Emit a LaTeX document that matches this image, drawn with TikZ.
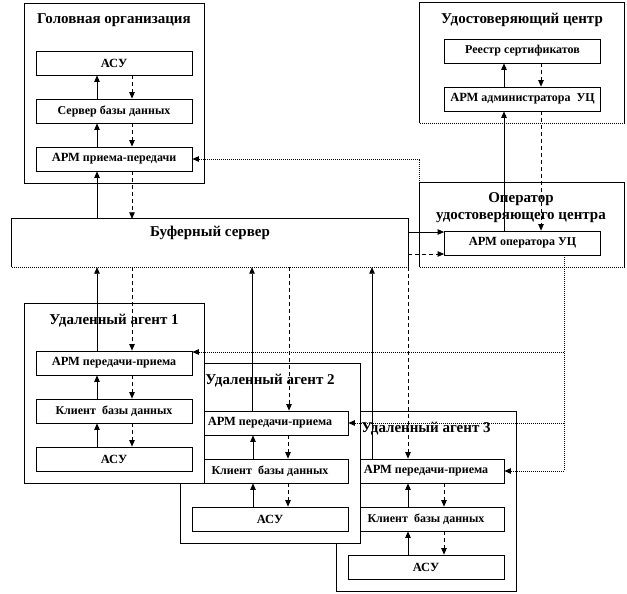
\documentclass[tikz,border=0pt]{standalone}
\usepackage{fontspec}
\setmainfont{Liberation Serif}
\usetikzlibrary{arrows.meta}
\newcommand{\fsT}{\fontsize{15}{17}\selectfont\bfseries}
\newcommand{\fsI}{\fontsize{12}{13}\selectfont\bfseries}
\newcommand{\armw}{{\fontsize{12.5}{13}\selectfont АРМ}}
\begin{document}
\begin{tikzpicture}[x=1pt,y=-1pt,
  outerbox/.style={draw,line width=0.9pt,fill=white,inner sep=0pt,minimum width=180pt,minimum height=180pt},
  bare/.style={inner sep=0pt,fill=white},
  innerbox/.style={draw,line width=0.8pt,fill=white,inner sep=0pt,minimum width=156pt,minimum height=24pt,font=\fsI},
  title/.style={inner sep=0pt,font=\fsT,align=center},
  arr/.style={-{Triangle[length=6.5pt,width=5.5pt]},line width=0.8pt},
  darr/.style={arr,dash pattern=on 4pt off 3pt},
  dotarr/.style={arr,dash pattern=on 1pt off 1pt},
  dotline/.style={line width=0.8pt,dash pattern=on 1pt off 1pt},
  frame/.style={line width=0.9pt}
]
\useasboundingbox (0,0) rectangle (627,594);
\fill[white] (0,0) rectangle (627,594);

% Head organisation
\node[outerbox] (hq) at (114,93) {};
\node[title] (hqt) at (114,20) {Головная организация};
\node[innerbox] (hqasu) at (114,63) {\fontsize{12.5}{13}\selectfont АСУ};
\node[innerbox] (hqsrv) at (114,111) {Сервер базы данных};
\node[innerbox] (hqarm) at (114,159) {\armw\ приема-передачи};

% Certification centre
\node[bare,minimum width=204pt,minimum height=120pt] (uc) at (522,63) {};
\draw[frame] (uc.south west) -- (uc.north west) -- (uc.north east) -- (uc.south east);
\draw[dotline] (uc.south west) -- (uc.south east);
\node[title] (uct) at (522,20) {Удостоверяющий центр};
\node[innerbox] (reg) at (522.5,51) {Реестр сертификатов};
\node[innerbox] (adm) at (522.5,99) {\armw\ администратора\ \ УЦ};

% Operator
\node[bare,minimum width=204pt,minimum height=84pt] (op) at (522,225) {};
\draw[frame] (op.south west) -- (op.north west) -- (op.north east) -- (op.south east);
\draw[dotline] (op.south west) -- (op.south east);
\node[title] (opt) at (521,207.5) {Оператор\\удостоверяющего центра};
\node[innerbox] (opa) at (522.5,243) {\armw\ оператора УЦ};

% Buffer server
\node[bare,minimum width=396pt,minimum height=48pt] (buf) at (210,243) {};
\draw[frame] (buf.south west) -- (buf.north west) -- (buf.north east) -- (buf.south east);
\draw[dotline] (buf.south west) -- (buf.south east);
\node[title] (buft) at (210,233) {Буферный сервер};

% Agent 3
\node[outerbox] (ag3) at (426,501) {};
\node[title] (ag3t) at (426,429) {Удаленный агент 3};
\node[innerbox] (a3arm) at (426,471) {\armw\ передачи-приема};
\node[innerbox] (a3cli) at (426,519) {Клиент\ \ базы данных};
\node[innerbox] (a3asu) at (426,567) {\fontsize{12.5}{13}\selectfont АСУ};

% Agent 2
\node[outerbox] (ag2) at (270,453) {};
\node[title] (ag2t) at (270,381) {Удаленный агент 2};
\node[innerbox] (a2arm) at (270,423) {\armw\ передачи-приема};
\node[innerbox] (a2cli) at (270,471) {Клиент\ \ базы данных};
\node[innerbox] (a2asu) at (270,519) {\fontsize{12.5}{13}\selectfont АСУ};

% Agent 1
\node[outerbox] (ag1) at (114,393) {};
\node[title] (ag1t) at (114,321) {Удаленный агент 1};
\node[innerbox] (a1arm) at (114,363) {\armw\ передачи-приема};
\node[innerbox] (a1cli) at (114,411) {Клиент\ \ базы данных};
\node[innerbox] (a1asu) at (114,459) {\fontsize{12.5}{13}\selectfont АСУ};

% ---- connectors inside head organisation
\draw[arr] ([xshift=-17pt]hqsrv.north) -- ([xshift=-17pt]hqasu.south);
\draw[darr] ([xshift=18pt]hqasu.south) -- ([xshift=18pt]hqsrv.north);
\draw[arr] ([xshift=-17pt]hqarm.north) -- ([xshift=-17pt]hqsrv.south);
\draw[darr] ([xshift=18pt]hqsrv.south) -- ([xshift=18pt]hqarm.north);
\coordinate (hs) at ([xshift=-17pt]hqarm.south);
\coordinate (hd) at ([xshift=18pt]hqarm.south);
\draw[arr] (hs |- buf.north) -- (hs);
\draw[darr] (hd) -- (hd |- buf.north);

% ---- certification centre
\draw[arr] ([xshift=-18.5pt]adm.north) -- ([xshift=-18.5pt]reg.south);
\draw[darr] ([xshift=18.5pt]reg.south) -- ([xshift=18.5pt]adm.north);
\draw[arr] ([xshift=-18.5pt]opa.north) -- ([xshift=-18.5pt]adm.south);
\draw[darr] ([xshift=18.5pt]adm.south) -- ([xshift=18.5pt]opa.north);

% ---- buffer to operator
\draw[arr] ([yshift=11pt]buf.east) -- ([yshift=11pt]opa.west);
\draw[darr] ([yshift=-11pt]buf.east) -- ([yshift=-11pt]opa.west);

% ---- agents inside
\foreach \a in {1,2}{
  \draw[arr] ([xshift=-17pt]a\a cli.north) -- ([xshift=-17pt]a\a arm.south);
  \draw[darr] ([xshift=18pt]a\a arm.south) -- ([xshift=18pt]a\a cli.north);
  \draw[arr] ([xshift=-17pt]a\a asu.north) -- ([xshift=-17pt]a\a cli.south);
  \draw[darr] ([xshift=18pt]a\a cli.south) -- ([xshift=18pt]a\a asu.north);
}
\draw[arr] ([xshift=-18pt]a3cli.north) -- ([xshift=-18pt]a3arm.south);
\draw[darr] ([xshift=18pt]a3arm.south) -- ([xshift=18pt]a3cli.north);
\draw[arr] ([xshift=-18pt]a3asu.north) -- ([xshift=-18pt]a3cli.south);
\draw[darr] ([xshift=18pt]a3cli.south) -- ([xshift=18pt]a3asu.north);

% ---- agents to buffer
\coordinate (a1s) at ([xshift=-17pt]a1arm.north);
\coordinate (a1d) at ([xshift=18pt]a1arm.north);
\coordinate (a2s) at ([xshift=-18pt]a2arm.north);
\coordinate (a2d) at ([xshift=19pt]a2arm.north);
\coordinate (a3s) at ([xshift=-54pt]a3arm.north);
\coordinate (a3d) at ([xshift=-18pt]a3arm.north);
\draw[arr] (a1s) -- (a1s |- buf.south);
\draw[darr] (a1d |- buf.south) -- (a1d);
\draw[arr] (a2s) -- (a2s |- buf.south);
\draw[darr] (a2d |- buf.south) -- (a2d);
\draw[arr] (a3s) -- (a3s |- buf.south);
\draw[darr] (a3d |- buf.south) -- (a3d);

% ---- dotted lines from operator workstation
\coordinate (dv) at ([xshift=41.5pt]opa.south);
\coordinate (a1e) at ([yshift=11pt]a1arm.east);
\draw[dotarr] (dv) |- (a3arm.east);
\draw[dotarr] (dv |- a2arm.east) -- (a2arm.east);
\draw[dotarr] (dv |- a1e) -- (a1e);
\draw[dotarr] (op.north west) |- (hqarm.east);
\end{tikzpicture}
\end{document}
